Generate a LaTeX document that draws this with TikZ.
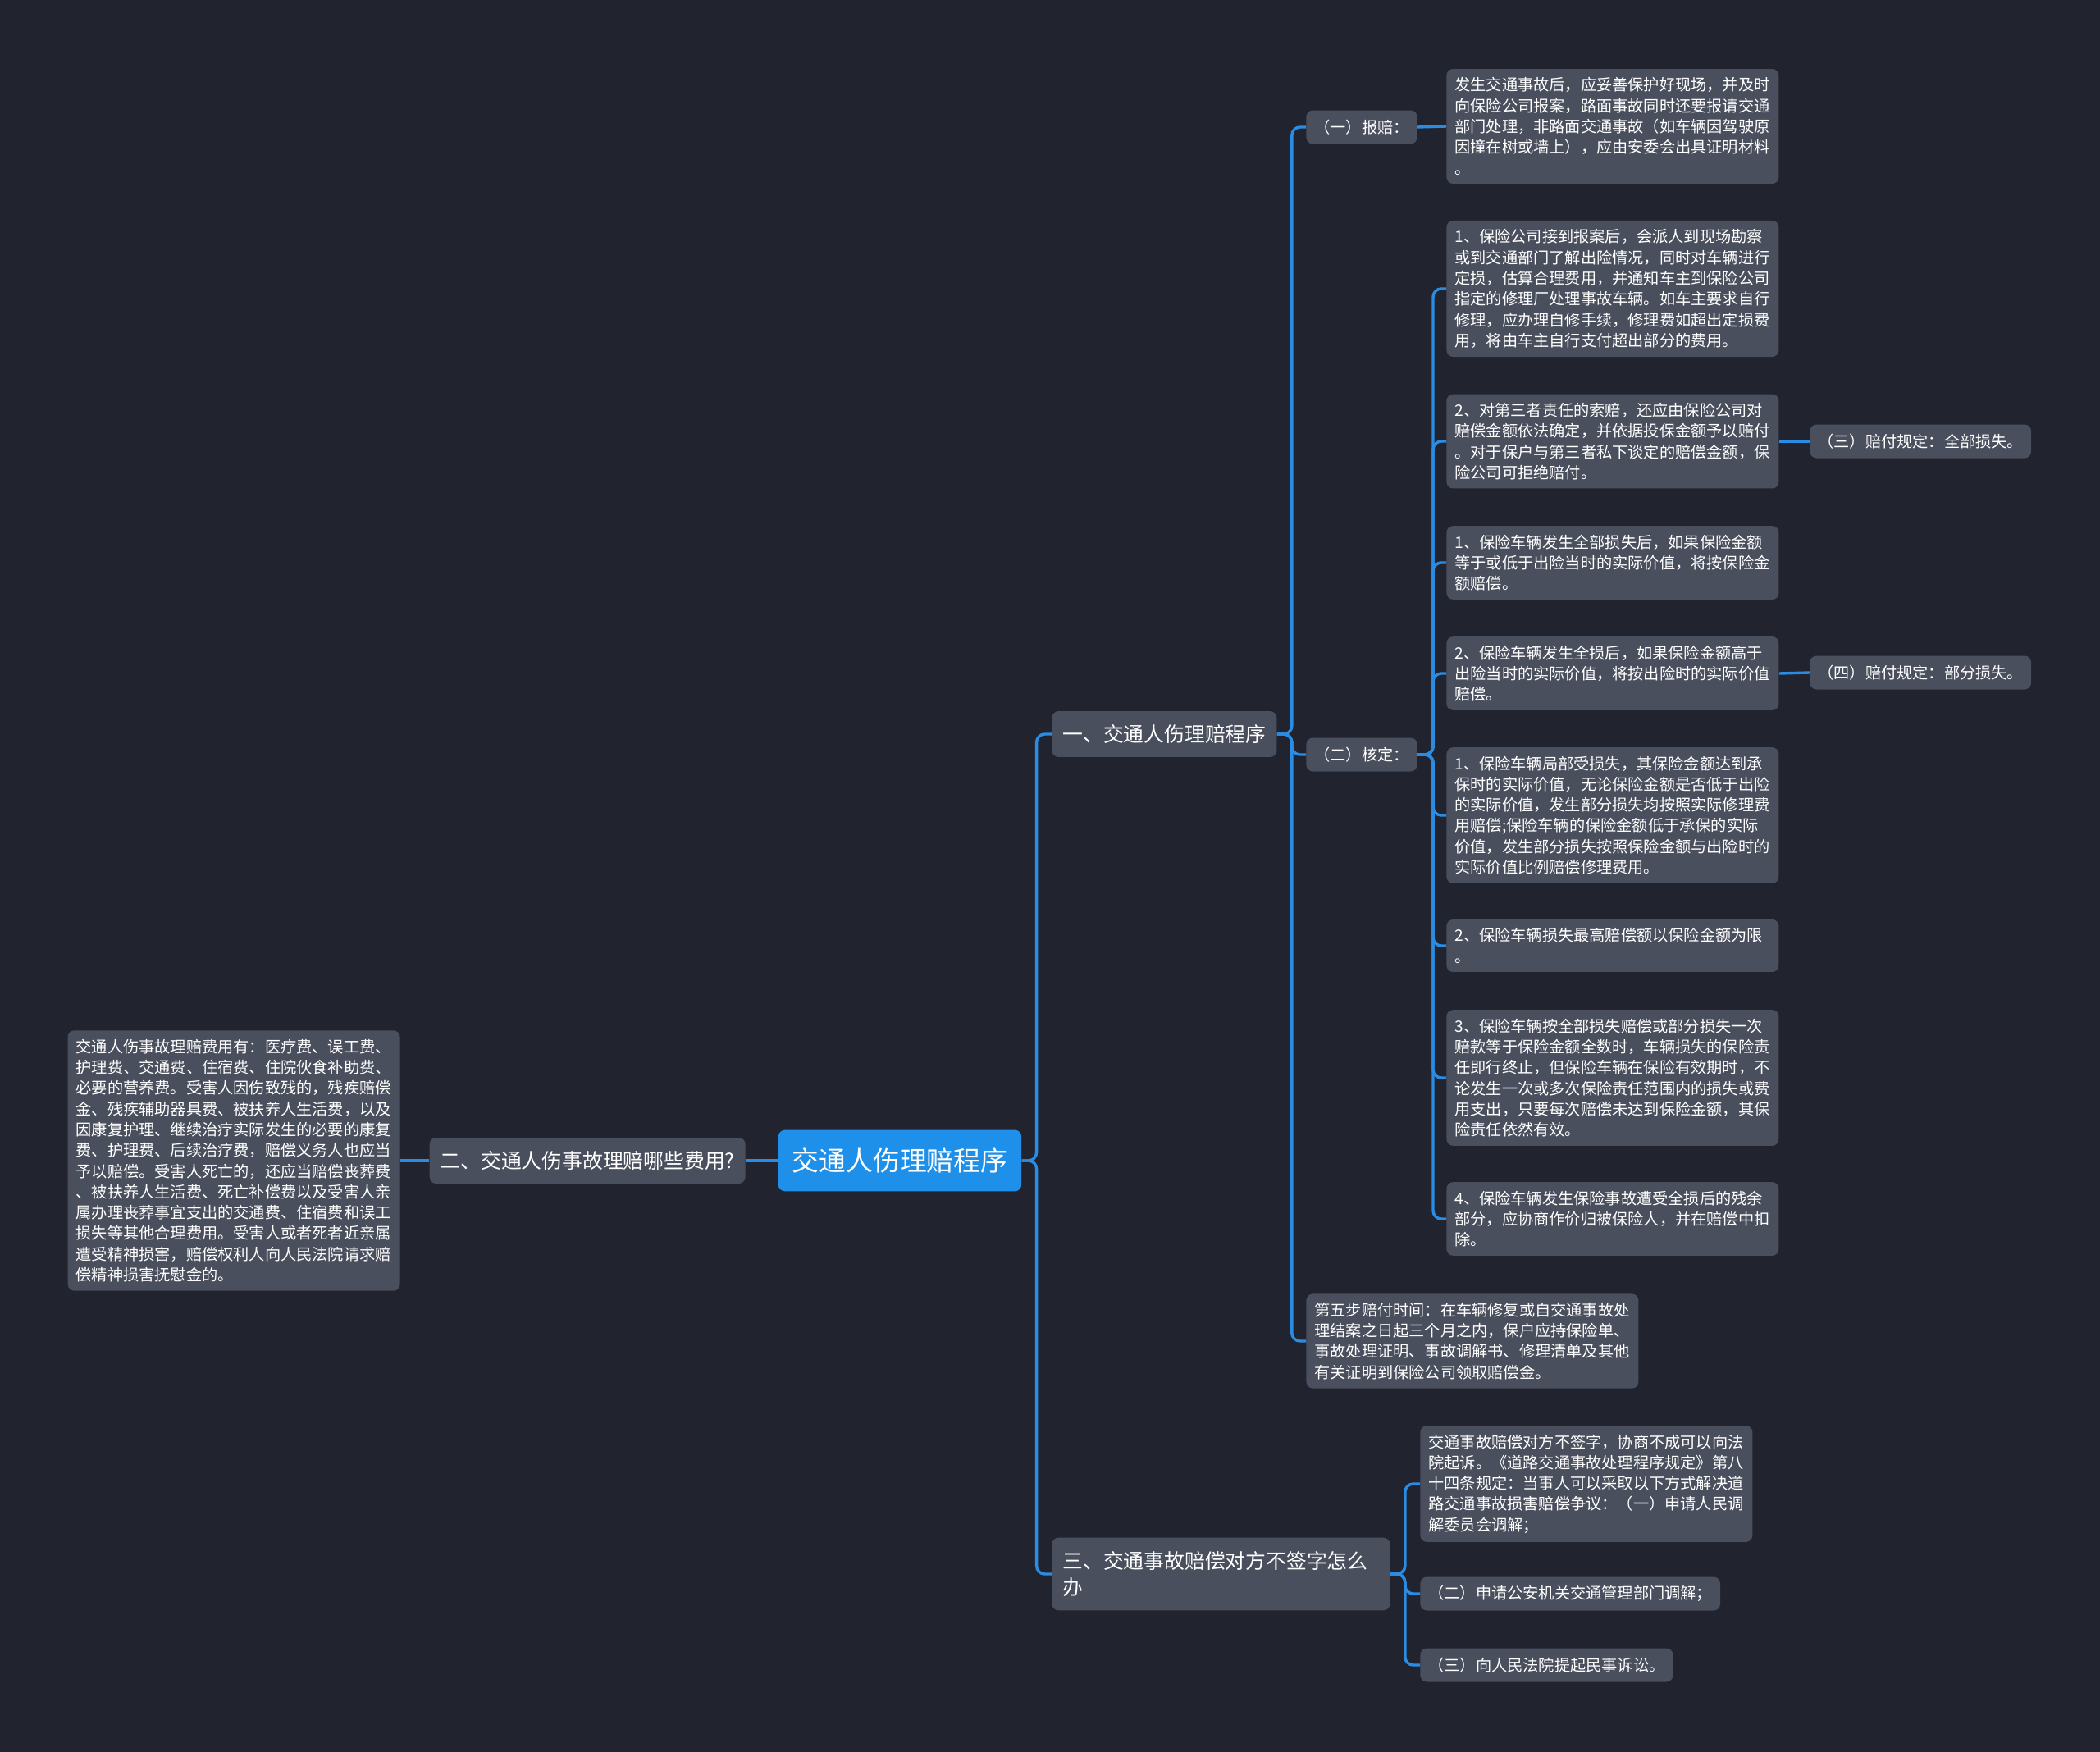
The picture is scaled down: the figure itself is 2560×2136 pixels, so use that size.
\documentclass[tikz,border=0pt]{standalone}
\usepackage{fontspec}
\setmainfont{Noto Sans CJK SC}
\usetikzlibrary{positioning}
\definecolor{bgcol}{HTML}{21242F}
\definecolor{boxcol}{HTML}{4A4F5E}
\definecolor{rootcol}{HTML}{1E90EA}
\definecolor{linecol}{HTML}{2A8CE2}

\begin{document}
\begin{tikzpicture}[x=0.5pt, y=-0.5pt,
    box/.style={fill=boxcol, text=white, rounded corners=4pt, inner ysep=5.3pt, inner xsep=5pt},
    leaf/.style={box, anchor=west, align=left, text width=192.5pt, font=\fontsize{9.6pt}{12.65pt}\selectfont},
    tag/.style={box, anchor=west, minimum height=20.5pt, font=\fontsize{9.6pt}{12.65pt}\selectfont},
    topic/.style={box, inner xsep=6.5pt, inner ysep=8.2pt, font=\fontsize{12.4pt}{16.4pt}\selectfont},
    root/.style={fill=rootcol, text=white, rounded corners=4pt, inner xsep=8.5pt, inner ysep=11pt, font=\fontsize{16.4pt}{20pt}\selectfont},
    link/.style={draw=linecol, line width=1.7pt, rounded corners=5pt}]

    % Background
    \fill[bgcol] (0,0) rectangle (2560,2136);

    % Centre and main topics
    \node[root] (root) at (1097,1415) {交通人伤理赔程序};
    \node[topic, anchor=west] (b1) at (1282,895) {一、交通人伤理赔程序};
    \node[topic, anchor=east] (b2) at (909,1415) {二、交通人伤事故理赔哪些费用?};
    \node[topic, anchor=west, align=left, text width=193pt] (b3) at (1282,1919) {三、交通事故赔偿对方不签字怎么\\办};

    % Left side
    \node[leaf, anchor=east] (cost) at (488,1415) {交通人伤事故理赔费用有：医疗费、误工费、\\护理费、交通费、住宿费、住院伙食补助费、\\必要的营养费。受害人因伤致残的，残疾赔偿\\金、残疾辅助器具费、被扶养人生活费，以及\\因康复护理、继续治疗实际发生的必要的康复\\费、护理费、后续治疗费，赔偿义务人也应当\\予以赔偿。受害人死亡的，还应当赔偿丧葬费\\、被扶养人生活费、死亡补偿费以及受害人亲\\属办理丧葬事宜支出的交通费、住宿费和误工\\损失等其他合理费用。受害人或者死者近亲属\\遭受精神损害，赔偿权利人向人民法院请求赔\\偿精神损害抚慰金的。};

    % Steps of topic one
    \node[tag] (s1) at (1592,155) {（一）报赔：};
    \node[tag] (s2) at (1592,920) {（二）核定：};
    \node[leaf] (s3) at (1592,1635) {第五步赔付时间：在车辆修复或自交通事故处\\理结案之日起三个月之内，保户应持保险单、\\事故处理证明、事故调解书、修理清单及其他\\有关证明到保险公司领取赔偿金。};

    \node[leaf] (r1) at (1763,154) {发生交通事故后，应妥善保护好现场，并及时\\向保险公司报案，路面事故同时还要报请交通\\部门处理，非路面交通事故（如车辆因驾驶原\\因撞在树或墙上），应由安委会出具证明材料\\。};

    \node[leaf] (k1) at (1763,352) {1、保险公司接到报案后，会派人到现场勘察\\或到交通部门了解出险情况，同时对车辆进行\\定损，估算合理费用，并通知车主到保险公司\\指定的修理厂处理事故车辆。如车主要求自行\\修理，应办理自修手续，修理费如超出定损费\\用，将由车主自行支付超出部分的费用。};
    \node[leaf] (k2) at (1763,538) {2、对第三者责任的索赔，还应由保险公司对\\赔偿金额依法确定，并依据投保金额予以赔付\\。对于保户与第三者私下谈定的赔偿金额，保\\险公司可拒绝赔付。};
    \node[leaf] (k3) at (1763,686) {1、保险车辆发生全部损失后，如果保险金额\\等于或低于出险当时的实际价值，将按保险金\\额赔偿。};
    \node[leaf] (k4) at (1763,821) {2、保险车辆发生全损后，如果保险金额高于\\出险当时的实际价值，将按出险时的实际价值\\赔偿。};
    \node[leaf] (k5) at (1763,994) {1、保险车辆局部受损失，其保险金额达到承\\保时的实际价值，无论保险金额是否低于出险\\的实际价值，发生部分损失均按照实际修理费\\用赔偿;保险车辆的保险金额低于承保的实际\\价值，发生部分损失按照保险金额与出险时的\\实际价值比例赔偿修理费用。};
    \node[leaf] (k6) at (1763,1153) {2、保险车辆损失最高赔偿额以保险金额为限\\。};
    \node[leaf] (k7) at (1763,1314) {3、保险车辆按全部损失赔偿或部分损失一次\\赔款等于保险金额全数时，车辆损失的保险责\\任即行终止，但保险车辆在保险有效期时，不\\论发生一次或多次保险责任范围内的损失或费\\用支出，只要每次赔偿未达到保险金额，其保\\险责任依然有效。};
    \node[leaf] (k8) at (1763,1486) {4、保险车辆发生保险事故遭受全损后的残余\\部分，应协商作价归被保险人，并在赔偿中扣\\除。};

    \node[tag] (rule3) at (2206,538) {（三）赔付规定：全部损失。};
    \node[tag] (rule4) at (2206,820) {（四）赔付规定：部分损失。};

    % Topic three
    \node[leaf] (t1) at (1731,1809) {交通事故赔偿对方不签字，协商不成可以向法\\院起诉。《道路交通事故处理程序规定》第八\\十四条规定：当事人可以采取以下方式解决道\\路交通事故损害赔偿争议：（一）申请人民调\\解委员会调解；};
    \node[tag] (t2) at (1731,1943) {（二）申请公安机关交通管理部门调解；};
    \node[tag] (t3) at (1731,2030) {（三）向人民法院提起民事诉讼。};

    % Draw the links
    \draw[link] (root.east) -- ++(18,0) |- (b1.west);
    \draw[link] (root.east) -- ++(18,0) |- (b3.west);
    \draw[link] (root.west) -- (b2.east);
    \draw[link] (b2.west) -- (cost.east);

    \foreach \s in {s1,s2,s3}
        \draw[link] (b1.east) -- ++(18,0) |- (\s.west);
    \draw[link] (s1.east) -- (r1.west);
    \foreach \i in {1,...,8}
        \draw[link] (s2.east) -- ++(19,0) |- (k\i.west);
    \draw[link] (k2.east) -- (rule3.west);
    \draw[link] (k4.east) -- (rule4.west);

    \foreach \i in {1,2,3}
        \draw[link] (b3.east) -- ++(18,0) |- (t\i.west);
\end{tikzpicture}
\end{document}
